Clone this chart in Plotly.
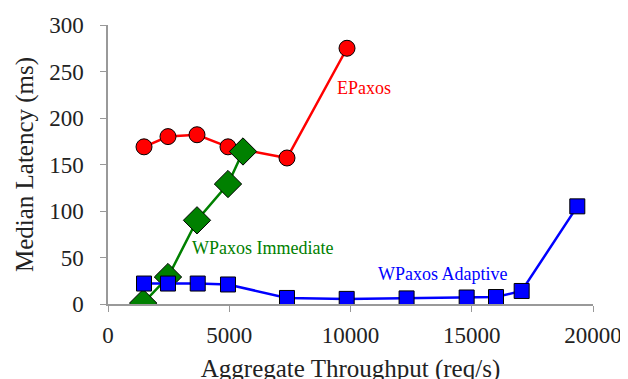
import plotly.graph_objects as go

ep_x = [1485, 2474, 3670, 4948, 7381, 9856]
ep_y = [169, 180, 182, 169, 157, 275]

wi_x = [1450, 2474, 3670, 4948, 5567]
wi_y = [1, 29, 90, 129, 164]

wa_x = [1485, 2474, 3700, 4948, 7381, 9843, 12313, 14790, 16000, 17058, 19353]
wa_y = [22, 22, 22, 21, 6.5, 5.5, 6, 7, 7.5, 14, 105]

font = "Liberation Serif"
fig = go.Figure()
fig.add_trace(go.Scatter(x=ep_x, y=ep_y, mode="lines+markers", name="EPaxos",
                         line=dict(color="#ff0000", width=2.5),
                         marker=dict(symbol="circle", size=16, color="#ff0000",
                                     line=dict(color="black", width=1))))
fig.add_trace(go.Scatter(x=wi_x, y=wi_y, mode="lines+markers", name="WPaxos Immediate",
                         line=dict(color="#008000", width=2.5),
                         marker=dict(symbol="diamond", size=21, color="#008000",
                                     line=dict(color="black", width=1))))
fig.add_trace(go.Scatter(x=wa_x, y=wa_y, mode="lines+markers", name="WPaxos Adaptive",
                         line=dict(color="#0000ff", width=2.5),
                         marker=dict(symbol="square", size=15, color="#0000ff",
                                     line=dict(color="black", width=1))))

fig.add_annotation(x=9361, y=232, text="EPaxos", showarrow=False, xanchor="left",
                   font=dict(family=font, size=18, color="#ff0000"))
fig.add_annotation(x=3381, y=60, text="WPaxos Immediate", showarrow=False, xanchor="left",
                   font=dict(family=font, size=18, color="#008000"))
fig.add_annotation(x=11052, y=32, text="WPaxos Adaptive", showarrow=False, xanchor="left",
                   font=dict(family=font, size=18, color="#0000ff"))

axis_common = dict(showgrid=False, zeroline=False, showline=True, linecolor="#999999",
                   linewidth=1.5, ticks="outside", tickcolor="#999999", ticklen=6,
                   automargin=False,
                   tickfont=dict(family=font, size=23, color="#222222"))
fig.update_layout(
    width=628, height=379,
    margin=dict(l=100, r=43, t=17, b=83),
    plot_bgcolor="white", paper_bgcolor="white",
    showlegend=False,
    xaxis=dict(range=[0, 20000], dtick=5000, tickformat="d", ticklabelstandoff=4,
               title=dict(text="Aggregate Throughput (req/s)", font=dict(family=font, size=25, color="#222222"), standoff=12),
               **axis_common),
    yaxis=dict(range=[0, 300], dtick=50, ticklabelstandoff=12,
               title=dict(text="Median Latency (ms)", font=dict(family=font, size=25, color="#222222"), standoff=8),
               **axis_common),
)
fig.write_html("out.html")
